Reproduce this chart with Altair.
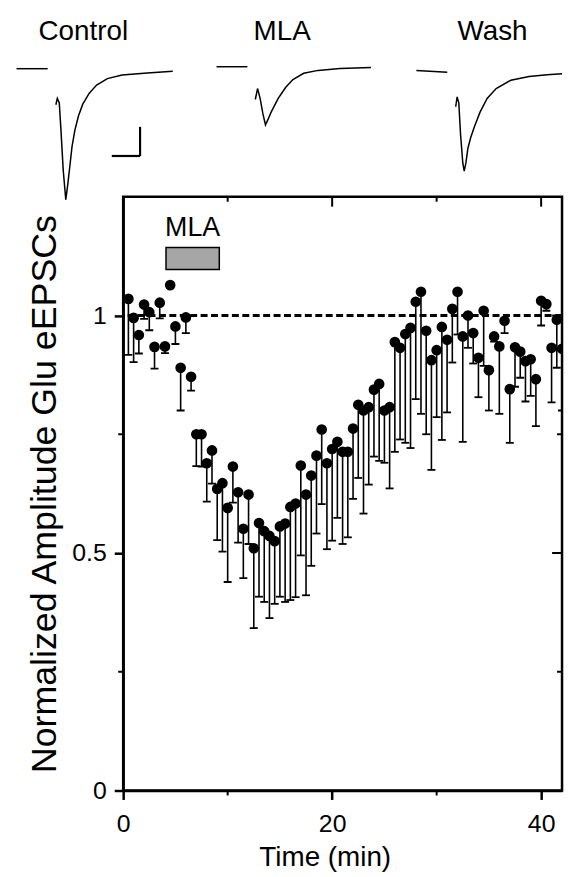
import altair as alt
import pandas as pd

# ---------------- time course (min, normalized amplitude, lower end of SEM bar) -------------
time_min = [0.5, 1.0, 1.5, 2.0, 2.5, 3.0, 3.5, 4.0, 4.5, 5.0, 5.5, 6.0, 6.5, 7.0,
            7.5, 8.0, 8.5, 9.0, 9.5, 10.0, 10.5, 11.0, 11.5, 12.0, 12.5, 13.0, 13.5, 14.0,
            14.5, 15.0, 15.5, 16.0, 16.5, 17.0, 17.5, 18.0, 18.5, 19.0, 19.5, 20.0, 20.5, 21.0,
            21.5, 22.0, 22.5, 23.0, 23.5, 24.0, 24.5, 25.0, 25.5, 26.0, 26.5, 27.0, 27.5, 28.0,
            28.5, 29.0, 29.5, 30.0, 30.5, 31.0, 31.5, 32.0, 32.5, 33.0, 33.5, 34.0, 34.5, 35.0,
            35.5, 36.0, 36.5, 37.0, 37.5, 38.0, 38.5, 39.0, 39.5, 40.0, 40.5, 41.0, 41.5, 42.0]
amplitude = [1.035, 0.995, 0.959, 1.023, 1.007, 0.934, 1.027, 0.935, 1.064, 0.977, 0.890, 0.996, 0.871, 0.750,
             0.750, 0.689, 0.716, 0.635, 0.647, 0.595, 0.682, 0.628, 0.551, 0.623, 0.510, 0.563, 0.546, 0.536,
             0.525, 0.556, 0.562, 0.597, 0.604, 0.684, 0.623, 0.663, 0.705, 0.760, 0.689, 0.719, 0.734, 0.713,
             0.713, 0.762, 0.812, 0.800, 0.807, 0.844, 0.856, 0.800, 0.807, 0.944, 0.932, 0.961, 0.974, 1.029,
             1.050, 0.968, 0.906, 0.927, 0.976, 0.949, 1.014, 1.050, 0.956, 1.000, 0.963, 0.911, 1.010, 0.885,
             0.956, 0.935, 0.989, 0.845, 0.933, 0.924, 0.904, 0.908, 0.866, 1.031, 1.024, 0.932, 0.991, 0.930]
amplitude_low = [0.917, 0.902, 0.920, 0.993, 0.969, 0.888, 0.994, 0.921, 1.064, 0.940, 0.800, 0.963, 0.842, 0.683,
                 0.682, 0.608, 0.646, 0.527, 0.503, 0.439, 0.606, 0.522, 0.447, 0.519, 0.342, 0.408, 0.397, 0.363,
                 0.393, 0.408, 0.397, 0.401, 0.407, 0.495, 0.411, 0.473, 0.541, 0.603, 0.508, 0.526, 0.574, 0.519,
                 0.533, 0.614, 0.658, 0.583, 0.644, 0.703, 0.694, 0.690, 0.636, 0.713, 0.739, 0.732, 0.721, 0.824,
                 0.793, 0.750, 0.675, 0.786, 0.738, 0.796, 0.901, 0.960, 0.734, 0.932, 0.899, 0.828, 0.894, 0.800,
                 0.945, 0.793, 0.963, 0.732, 0.850, 0.869, 0.819, 0.831, 0.767, 0.979, 1.010, 0.817, 0.890, 0.800]

y_major = [0, 0.5, 1]
y_minor = [0.25, 0.75]
x_major = [0, 20, 40]
x_minor = [10, 30]
x_top_major = [20, 40]
y_right_major = [0.5, 1.0]
baseline_level = [1.0]

mla_label = ["MLA"]
mla_start = [4.1]
mla_end = [9.2]
mla_bar_low = [1.097]
mla_bar_high = [1.143]
mla_label_y = [1.168]

# ---------------- example traces (ms, pA relative to baseline) -------------
trace_names = ["Control", "MLA", "Wash"]
trace_offset_ms = [0.0, 70.67, 141.3]
label_ms = [23.6, 23.2, 26.9]
label_pA = 49.0

base_ms = {"Control": [0, 11.0], "MLA": [0, 10.9], "Wash": [0, 10.9]}
base_pA = {"Control": [0, 0], "MLA": [3.4, 3.4], "Wash": [-3.0, -6.0]}

resp_ms = {
    "Control": [13.9, 14.4, 15.1, 15.7, 16.5, 17.4, 18.0, 18.8, 19.6, 20.6, 21.9, 23.4, 25.7, 28.3, 32.1, 37.3, 46.2, 55.2],
    "MLA": [13.7, 14.5, 15.4, 16.4, 17.3, 18.2, 19.3, 21.8, 24.4, 27.0, 30.8, 35.9, 43.6, 54.6],
    "Wash": [13.9, 14.4, 15.0, 15.6, 16.4, 16.9, 17.5, 18.2, 19.2, 20.5, 22.5, 25.0, 28.2, 33.4, 39.8, 46.2, 51.5],
}
resp_pA = {
    "Control": [-62, -51, -59, -106, -175, -225, -203, -169, -134, -106, -81, -61, -42, -28, -17, -11, -7.5, -4.3],
    "MLA": [-52.9, -34.1, -51, -77.8, -96.6, -87.2, -74.7, -51, -32.3, -18.6, -7.8, -2.9, 0.2, 2.0],
    "Wash": [-65.4, -48.5, -59.2, -112.3, -162, -176, -162, -137, -118.4, -99.8, -74.7, -51, -34.1, -19.8, -13.5, -10.4, -8.5],
}
scalebar_ms = [33.65, 43.65]   # 10 ms
scalebar_pA = [-150.0, -100.0]  # 50 pA

FONT = "Liberation Sans"
W, H = 442, 598
TOP_H = 172

# ================= top panel: traces =================
rows = []
for name, off in zip(trace_names, trace_offset_ms):
    for seg, ms_list, pa_list in (("base", base_ms[name], base_pA[name]),
                                  ("resp", resp_ms[name], resp_pA[name])):
        for i, (m, p) in enumerate(zip(ms_list, pa_list)):
            rows.append({"key": name + seg, "i": i, "x": m + off, "pA": p})
tr = pd.DataFrame(rows)

txs = alt.Scale(domain=[37.68, 192.77], nice=False, zero=False)
tys = alt.Scale(domain=[-194.5, 99.0], nice=False, zero=False)

trace_lines = alt.Chart(tr).mark_line(color="black", strokeWidth=1.5, clip=False).encode(
    x=alt.X("x:Q", scale=txs, axis=None),
    y=alt.Y("pA:Q", scale=tys, axis=None),
    detail="key:N",
    order="i:O",
)

lab = pd.DataFrame({"name": trace_names,
                    "x": [o + l for o, l in zip(trace_offset_ms, label_ms)],
                    "pA": [label_pA] * 3})
trace_labels = alt.Chart(lab).mark_text(font=FONT, fontSize=28, color="black",
                                         baseline="alphabetic", align="center").encode(
    x=alt.X("x:Q", scale=txs, axis=None),
    y=alt.Y("pA:Q", scale=tys, axis=None),
    text="name:N",
)

sb_h = pd.DataFrame({"x": [scalebar_ms[0]], "x2": [scalebar_ms[1]], "pA": [scalebar_pA[0]]})
sb_v = pd.DataFrame({"x": [scalebar_ms[1]], "pA": [scalebar_pA[0]], "pA2": [scalebar_pA[1]]})
scale_h = alt.Chart(sb_h).mark_rule(color="black", strokeWidth=2.2).encode(
    x=alt.X("x:Q", scale=txs, axis=None), x2="x2:Q",
    y=alt.Y("pA:Q", scale=tys, axis=None))
scale_v = alt.Chart(sb_v).mark_rule(color="black", strokeWidth=2.2).encode(
    x=alt.X("x:Q", scale=txs, axis=None),
    y=alt.Y("pA:Q", scale=tys, axis=None), y2="pA2:Q")

top = alt.layer(trace_lines, trace_labels, scale_h, scale_v).properties(
    width=W, height=TOP_H, view=alt.ViewBackground(strokeWidth=0))

# ================= main panel =================
df = pd.DataFrame({"t": time_min, "amp": amplitude, "lo": amplitude_low})
xs = alt.Scale(domain=[0, 42], nice=False, zero=False)
ys = alt.Scale(domain=[0, 1.25], nice=False, zero=False)

xaxis = alt.Axis(values=x_major, title="Time (min)", grid=False,
                 domainColor="black", domainWidth=2.5, tickColor="black", tickWidth=2.5, tickSize=9,
                 labelFont=FONT, labelFontSize=25, labelColor="black", labelPadding=12, labelFlush=False,
                 titleFont=FONT, titleFontSize=28, titleFontWeight="normal", titleColor="black",
                 titlePadding=8, titleX=203)
yaxis = alt.Axis(values=y_major, format="~g", title="Normalized Amplitude Glu eEPSCs", grid=False,
                 domainColor="black", domainWidth=2.5, tickColor="black", tickWidth=2.5, tickSize=9,
                 labelFont=FONT, labelFontSize=25, labelColor="black", labelPadding=8,
                 titleFont=FONT, titleFontSize=36, titleFontWeight="normal", titleColor="black",
                 titlePadding=8)

X = lambda f: alt.X(f, scale=xs, axis=xaxis)
Y = lambda f: alt.Y(f, scale=ys, axis=yaxis)

dashed = alt.Chart(pd.DataFrame({"y": baseline_level})).mark_rule(
    color="black", strokeWidth=3, strokeDash=[7, 3.5]).encode(y=Y("y:Q"))

err = alt.Chart(df).mark_rule(color="black", strokeWidth=1.6, clip=True).encode(
    x=X("t:Q"), y=Y("amp:Q"), y2="lo:Q")
caps = alt.Chart(df).mark_rule(color="black", strokeWidth=1.8, xOffset=-4, x2Offset=4, clip=True).encode(
    x=X("t:Q"), x2="t:Q", y=Y("lo:Q"))
pts = alt.Chart(df).mark_circle(color="black", opacity=1, size=115, clip=True).encode(
    x=X("t:Q"), y=Y("amp:Q"))

mla = pd.DataFrame({"label": mla_label, "x": mla_start, "x2": mla_end,
                    "y": mla_bar_low, "y2": mla_bar_high, "ly": mla_label_y})
mla_rect = alt.Chart(mla).mark_rect(fill="#a6a6a6", stroke="black", strokeWidth=1.5).encode(
    x=X("x:Q"), x2="x2:Q", y=Y("y:Q"), y2="y2:Q")
mla_text = alt.Chart(mla).transform_calculate(xc="(datum.x + datum.x2) / 2").mark_text(
    font=FONT, fontSize=27, color="black", baseline="alphabetic", align="center").encode(
    x=X("xc:Q"), y=Y("ly:Q"), text="label:N")

# minor / mirrored ticks
left_minor = alt.Chart(pd.DataFrame({"y": y_minor})).mark_rule(color="black", strokeWidth=2).encode(
    y=Y("y:Q"), x=alt.value(-5), x2=alt.value(0))
right_minor = alt.Chart(pd.DataFrame({"y": y_minor})).mark_rule(color="black", strokeWidth=2).encode(
    y=Y("y:Q"), x=alt.value(W), x2=alt.value(W - 5))
right_major = alt.Chart(pd.DataFrame({"y": y_right_major})).mark_rule(color="black", strokeWidth=2).encode(
    y=Y("y:Q"), x=alt.value(W), x2=alt.value(W - 10))
bottom_minor = alt.Chart(pd.DataFrame({"x": x_minor})).mark_rule(color="black", strokeWidth=2).encode(
    x=X("x:Q"), y=alt.value(H), y2=alt.value(H + 5))
top_minor = alt.Chart(pd.DataFrame({"x": x_minor})).mark_rule(color="black", strokeWidth=2).encode(
    x=X("x:Q"), y=alt.value(0), y2=alt.value(5))
top_major = alt.Chart(pd.DataFrame({"x": x_top_major})).mark_rule(color="black", strokeWidth=2).encode(
    x=X("x:Q"), y=alt.value(0), y2=alt.value(10))

main = alt.layer(err, dashed, caps, pts, mla_rect, mla_text,
                 left_minor, right_minor, right_major, bottom_minor, top_minor, top_major).properties(
    width=W, height=H, view=alt.ViewBackground(stroke="black", strokeWidth=2.5))

chart = alt.vconcat(top, main, spacing=15, bounds="flush").properties(
    padding={"left": 5, "top": 0, "right": 0, "bottom": 0},
    background="white",
).configure_view(strokeWidth=0)

chart.save("out.html", embed_options={"renderer": "svg", "actions": False})
